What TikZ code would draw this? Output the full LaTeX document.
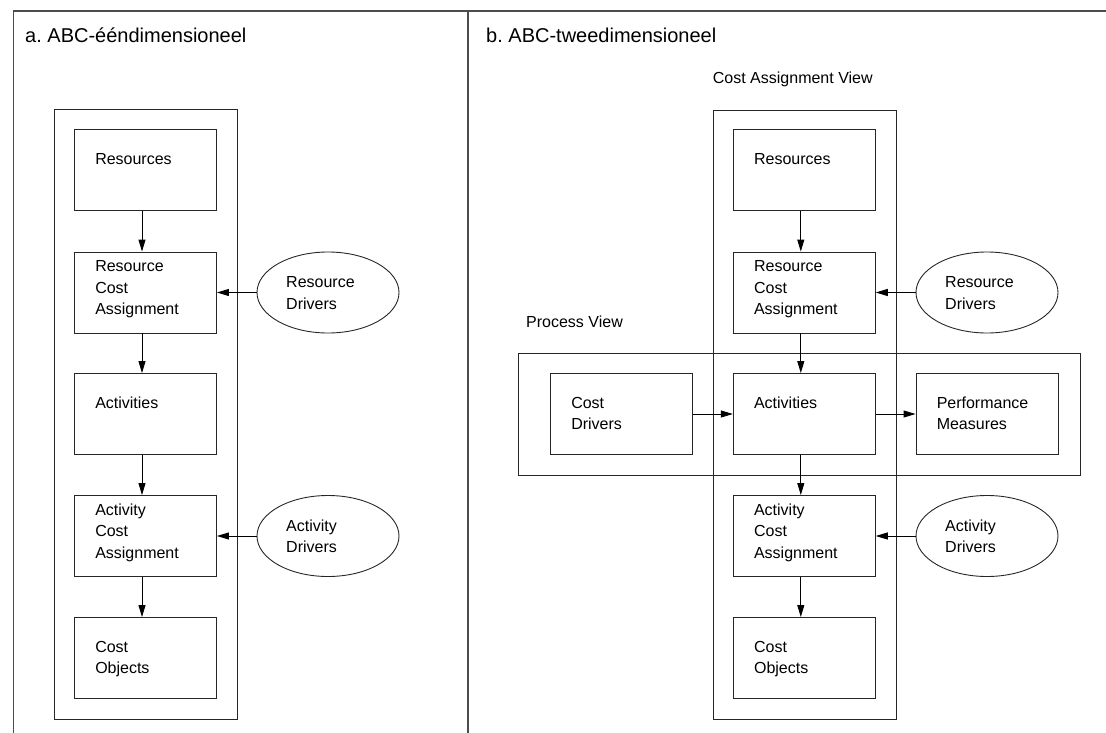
\documentclass[tikz,border=0pt]{standalone}
\usepackage{fontspec}
\setmainfont{Liberation Sans}
\usetikzlibrary{shapes.geometric,arrows.meta,calc}
\frenchspacing
\begin{document}
\begin{tikzpicture}[x=1pt,y=-1pt,
  frame/.style={draw=black!70, line width=1.4pt},
  group/.style={draw=black!85, line width=0.9pt},
  stepbox/.style={draw=black!85, line width=0.9pt, rectangle,
    minimum width=142pt, minimum height=81pt, inner sep=0pt},
  driver/.style={draw=black!85, line width=0.9pt, ellipse,
    minimum width=142pt, minimum height=81pt, inner sep=0pt},
  lbl/.style={anchor=base west, inner sep=0pt, align=left,
    font=\fontsize{16}{21.6}\selectfont},
  heading/.style={anchor=base west, inner sep=0pt,
    font=\fontsize{20}{24}\selectfont},
  flow/.style={draw=black, line width=0.9pt,
    -{Triangle[length=12pt,width=7pt]}},
]
\useasboundingbox (0,0) rectangle (1106,733);

% outer frame and panel divider
\draw[frame] (13.5,733) -- (13.5,11) -- (1106,11);
\draw[frame] (468,11) -- (468,733);

% panel headings
\node[heading] (ta) at (25,43) {a. ABC-ééndimensioneel};
\node[heading] (tb) at (486,43) {b. ABC-tweedimensioneel};

% ---------- panel a: one-dimensional ABC ----------
\draw[group] (54,109) rectangle (237,719);

\node[stepbox] (a-res) at (145.5,170) {};
\node[stepbox] (a-rca) at (145.5,292.5) {};
\node[stepbox] (a-act) at (145.5,414) {};
\node[stepbox] (a-aca) at (145.5,536) {};
\node[stepbox] (a-cob) at (145.5,658) {};
\node[driver] (a-rd) at (328,292.5) {};
\node[driver] (a-ad) at (328,536) {};

% labels are placed by the baseline of their last line
\node[lbl] (a-res-t) at ($(a-res.north west)+(21,35)$) {Resources};
\node[lbl] (a-rca-t) at ($(a-rca.north west)+(21,63.2)$) {Resource\\Cost\\Assignment};
\node[lbl] (a-act-t) at ($(a-act.north west)+(21,35)$) {Activities};
\node[lbl] (a-aca-t) at ($(a-aca.north west)+(21,63.2)$) {Activity\\Cost\\Assignment};
\node[lbl] (a-cob-t) at ($(a-cob.north west)+(21,56.6)$) {Cost\\Objects};
\node[lbl] (a-rd-t) at ($(a-rd.center)+(-42,16.6)$) {Resource\\Drivers};
\node[lbl] (a-ad-t) at ($(a-ad.center)+(-42,16.6)$) {Activity\\Drivers};

\draw[flow] ([xshift=-3.5pt]a-res.south) -- ([xshift=-3.5pt]a-rca.north);
\draw[flow] ([xshift=-3.5pt]a-rca.south) -- ([xshift=-3.5pt]a-act.north);
\draw[flow] ([xshift=-3.5pt]a-act.south) -- ([xshift=-3.5pt]a-aca.north);
\draw[flow] ([xshift=-3.5pt]a-aca.south) -- ([xshift=-3.5pt]a-cob.north);
\draw[flow] (a-rd.west) -- (a-rca.east);
\draw[flow] (a-ad.west) -- (a-aca.east);

% ---------- panel b: two-dimensional ABC ----------
\node[lbl] (cav) at (712.7,84) {Cost Assignment View};
\node[lbl] (pv) at (526,327) {Process View};
\draw[group] (713,110) rectangle (896,719);
\draw[group] (518,353) rectangle (1080,475);

\node[stepbox] (b-res) at (804.3,170) {};
\node[stepbox] (b-rca) at (804.3,292.5) {};
\node[stepbox] (b-act) at (804.3,414) {};
\node[stepbox] (b-aca) at (804.3,536) {};
\node[stepbox] (b-cob) at (804.3,658) {};
\node[stepbox] (b-cd) at (621.5,414) {};
\node[stepbox] (b-pm) at (987,414) {};
\node[driver] (b-rd) at (987,292.5) {};
\node[driver] (b-ad) at (987,536) {};

\node[lbl] (b-res-t) at ($(b-res.north west)+(21,35)$) {Resources};
\node[lbl] (b-rca-t) at ($(b-rca.north west)+(21,63.2)$) {Resource\\Cost\\Assignment};
\node[lbl] (b-act-t) at ($(b-act.north west)+(21,35)$) {Activities};
\node[lbl] (b-aca-t) at ($(b-aca.north west)+(21,63.2)$) {Activity\\Cost\\Assignment};
\node[lbl] (b-cob-t) at ($(b-cob.north west)+(21,56.6)$) {Cost\\Objects};
\node[lbl] (b-cd-t) at ($(b-cd.north west)+(21,56.6)$) {Cost\\Drivers};
\node[lbl] (b-pm-t) at ($(b-pm.north west)+(21,56.6)$) {Performance\\Measures};
\node[lbl] (b-rd-t) at ($(b-rd.center)+(-42,16.6)$) {Resource\\Drivers};
\node[lbl] (b-ad-t) at ($(b-ad.center)+(-42,16.6)$) {Activity\\Drivers};

\draw[flow] ([xshift=-3.5pt]b-res.south) -- ([xshift=-3.5pt]b-rca.north);
\draw[flow] ([xshift=-3.5pt]b-rca.south) -- ([xshift=-3.5pt]b-act.north);
\draw[flow] ([xshift=-3.5pt]b-act.south) -- ([xshift=-3.5pt]b-aca.north);
\draw[flow] ([xshift=-3.5pt]b-aca.south) -- ([xshift=-3.5pt]b-cob.north);
\draw[flow] (b-rd.west) -- (b-rca.east);
\draw[flow] (b-ad.west) -- (b-aca.east);
\draw[flow] (b-cd.east) -- (b-act.west);
\draw[flow] (b-act.east) -- (b-pm.west);
\end{tikzpicture}
\end{document}
